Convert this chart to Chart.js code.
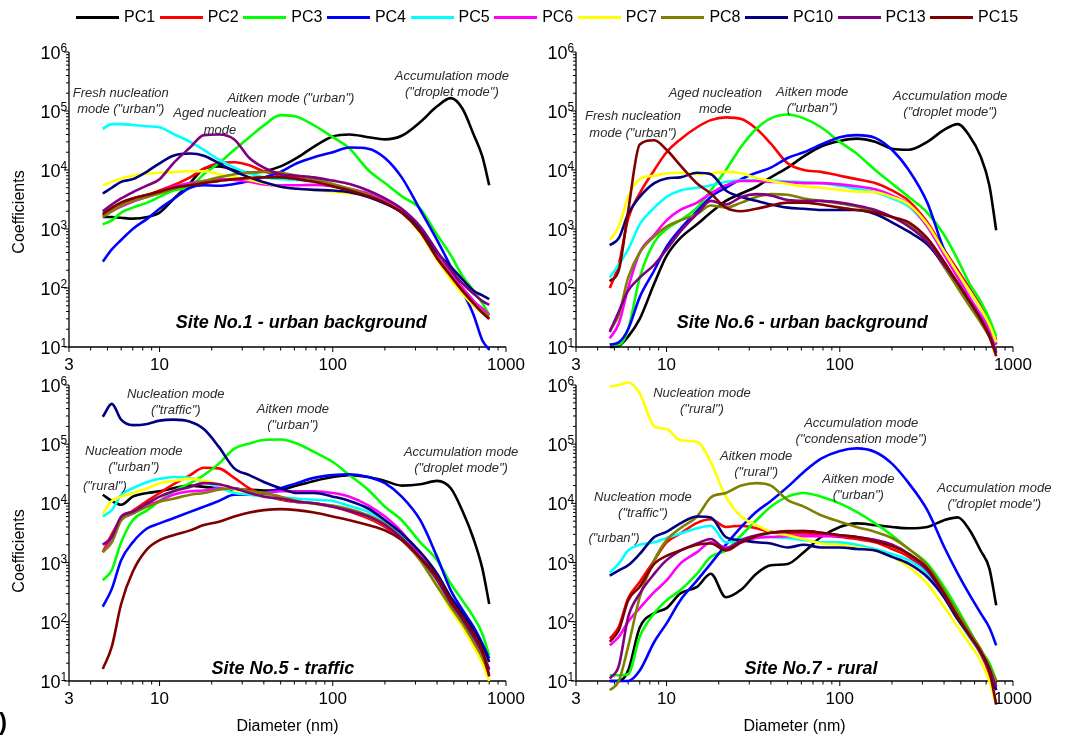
<!DOCTYPE html>
<html lang="en">
<head>
  <meta charset="UTF-8" />
  <title>PC coefficients by site</title>
  <script src="https://cdn.jsdelivr.net/npm/chart.js"></script>
  <style>
    body {
      margin: 0;
      background: #fff;
      width: 1066px;
      height: 735px;
      position: relative;
      overflow: hidden;
      font-family: Arial, "Liberation Sans", sans-serif;
    }
    canvas { position: absolute; }
    #legend {
      position: absolute;
      left: 76px;
      top: 6px;
      height: 22px;
      display: flex;
      align-items: center;
      z-index: 2;
    }
    .item { display: flex; align-items: center; font-size: 16px; color: #000; }
    .swatch { width: 43px; height: 3px; }
    .item span { margin: 0 4.5px 0 5px; }
    #tag {
      position: absolute;
      left: -1px;
      top: 708px;
      font: bold 24px Arial, "Liberation Sans", sans-serif;
    }
  </style>
</head>
<body>
  <div id="legend"></div>
  <canvas id="c1" width="533" height="372" style="left:0;top:0"></canvas>
  <canvas id="c2" width="533" height="372" style="left:533px;top:0"></canvas>
  <canvas id="c3" width="533" height="363" style="left:0;top:372px"></canvas>
  <canvas id="c4" width="533" height="363" style="left:533px;top:372px"></canvas>
  <div id="tag">)</div>

  <script>
    // diameters (nm) shared by all panels
    const diameters = [4.7, 5.3, 6, 7, 8.5, 10, 12, 15, 18, 22, 27, 33, 40, 50, 62, 78, 100, 125, 160, 200, 250, 320, 400, 480, 560, 650, 730, 800];

    const seriesNames = ['PC1', 'PC2', 'PC3', 'PC4', 'PC5', 'PC6', 'PC7', 'PC8', 'PC10', 'PC13', 'PC15'];
    const seriesColors = ['#000000', '#ff0000', '#00ff00', '#0000ff', '#00ffff', '#ff00ff', '#ffff00', '#808000', '#000080', '#800080', '#800000'];

    const xTickValues = [3, 10, 100, 1000];
    const yTickValues = [1e1, 1e2, 1e3, 1e4, 1e5, 1e6];

    // Site No.1 - urban background (rows in seriesNames order)
    const site1 = [
      [1.6e3, 1.6e3, 1.55e3, 1.5e3, 1.6e3, 1.9e3, 3.2e3, 6e3, 1.05e4, 1.15e4, 1.0e4, 9e3, 9.5e3, 1.15e4, 1.6e4, 2.5e4, 3.7e4, 4e4, 3.6e4, 3.3e4, 3.8e4, 6.5e4, 1.2e5, 1.65e5, 1.1e5, 4e4, 1.7e4, 5.5e3],
      [1.7e3, 2.2e3, 2.8e3, 3.3e3, 3.8e3, 4.5e3, 5.5e3, 7.5e3, 1.05e4, 1.3e4, 1.35e4, 1.2e4, 9.5e3, 8e3, 7.5e3, 6.5e3, 5.3e3, 4.5e3, 3.7e3, 2.9e3, 2e3, 9e2, 3.5e2, 1.7e2, 1e2, 6e1, 4e1, 3e1],
      [1.2e3, 1.4e3, 1.9e3, 2.3e3, 2.8e3, 3.5e3, 4.5e3, 5.2e3, 8.5e3, 1.3e4, 2.2e4, 3.6e4, 5.7e4, 8.5e4, 8e4, 5.7e4, 3.6e4, 2.3e4, 1e4, 6e3, 3.6e3, 2.2e3, 8e2, 3.6e2, 1.6e2, 9e1, 5.5e1, 3.5e1],
      [2.8e2, 4.5e2, 6.5e2, 1e3, 1.5e3, 2.2e3, 3.2e3, 5e3, 5.5e3, 5.4e3, 5.8e3, 6.5e3, 7.5e3, 9.3e3, 1.3e4, 1.65e4, 2e4, 2.4e4, 2.3e4, 1.6e4, 7.5e3, 2.1e3, 6.5e2, 2.3e2, 9e1, 3.5e1, 1.3e1, 9],
      [5e4, 6e4, 6e4, 5.8e4, 5.5e4, 5.3e4, 4.1e4, 3e4, 2.2e4, 1.5e4, 1.1e4, 8.7e3, 7.5e3, 7e3, 6.8e3, 6.5e3, 5.5e3, 4.5e3, 3.6e3, 2.8e3, 2e3, 9e2, 3.3e2, 1.6e2, 9e1, 5.5e1, 4e1, 3.3e1],
      [1.7e3, 2e3, 2.4e3, 2.9e3, 3.5e3, 4.3e3, 5.2e3, 6e3, 6.5e3, 7e3, 6.8e3, 6.3e3, 5.7e3, 5.5e3, 5.5e3, 5.6e3, 5.3e3, 4.8e3, 4e3, 3e3, 2.1e3, 9.5e2, 3.5e2, 1.7e2, 1e2, 6e1, 4.5e1, 3.5e1],
      [5.5e3, 6.3e3, 7.2e3, 8e3, 8.7e3, 9e3, 9.2e3, 9.5e3, 9.5e3, 8.5e3, 7.5e3, 6.8e3, 6e3, 5.2e3, 4.8e3, 4.6e3, 4.3e3, 4e3, 3.6e3, 2.8e3, 1.9e3, 8.5e2, 3e2, 1.4e2, 8e1, 5e1, 3.8e1, 3.3e1],
      [1.6e3, 2e3, 2.5e3, 3e3, 3.5e3, 4e3, 4.8e3, 5.7e3, 6.5e3, 7.5e3, 8.5e3, 9e3, 9.3e3, 9e3, 8e3, 7e3, 5.8e3, 4.8e3, 3.8e3, 2.8e3, 1.9e3, 9e2, 3.3e2, 1.6e2, 9e1, 5.5e1, 4e1, 3.3e1],
      [4e3, 5e3, 6.3e3, 7e3, 9.5e3, 1.3e4, 1.75e4, 1.9e4, 1.75e4, 1.3e4, 9.5e3, 7.5e3, 6.2e3, 5.2e3, 4.8e3, 4.6e3, 4.5e3, 4.2e3, 3.5e3, 2.7e3, 1.9e3, 1e3, 4e2, 2.3e2, 1.4e2, 9e1, 7.5e1, 6.5e1],
      [2e3, 2.6e3, 3.3e3, 4.2e3, 5.5e3, 7e3, 1.3e4, 2.4e4, 3.9e4, 4e4, 3.3e4, 1.6e4, 1.1e4, 8.5e3, 8e3, 7.5e3, 6.6e3, 5.8e3, 4.5e3, 3.3e3, 2.2e3, 1.1e3, 4.2e2, 2e2, 1.2e2, 8e1, 6e1, 5.2e1],
      [1.8e3, 2.3e3, 2.8e3, 3.3e3, 3.8e3, 4.3e3, 5e3, 5.5e3, 6e3, 6.5e3, 7e3, 7.3e3, 7.5e3, 7.5e3, 7e3, 6.3e3, 5.3e3, 4.5e3, 3.6e3, 2.8e3, 1.9e3, 9e2, 3.2e2, 1.6e2, 9e1, 5.5e1, 3.8e1, 3e1]
    ];

    // Site No.6 - urban background
    const site6 = [
      [10, 10.5, 15, 3e1, 1.2e2, 3.5e2, 7e2, 1.2e3, 1.9e3, 3e3, 4e3, 5.2e3, 7.5e3, 1.1e4, 1.7e4, 2.5e4, 3.1e4, 3.4e4, 3e4, 2.3e4, 2.2e4, 3e4, 4.8e4, 6e4, 3.8e4, 1.7e4, 5.5e3, 9.5e2],
      [1e2, 2.5e2, 1.5e3, 4e3, 1e4, 2e4, 3.3e4, 5.3e4, 7e4, 7.8e4, 7.3e4, 5e4, 2.8e4, 1.3e4, 1e4, 9.3e3, 8e3, 7e3, 6e3, 4.5e3, 3e3, 1.3e3, 4.5e2, 2e2, 1e2, 5e1, 2.8e1, 1.3e1],
      [11, 11, 2e1, 1.5e2, 6e2, 1e3, 1.4e3, 2.3e3, 4.5e3, 1e4, 2.5e4, 5e4, 7.5e4, 8.7e4, 7.5e4, 5.3e4, 3e4, 1.9e4, 1e4, 5.9e3, 3.5e3, 1.9e3, 8e2, 3e2, 1.2e2, 6e1, 3e1, 1.5e1],
      [11, 12, 2e1, 7e1, 2e2, 5e2, 1e3, 2e3, 3.5e3, 5e3, 7e3, 9e3, 1.1e4, 1.6e4, 2e4, 2.7e4, 3.6e4, 3.9e4, 3.5e4, 2.2e4, 1e4, 2.8e3, 4.5e2, 1.8e2, 9e1, 4.5e1, 2.2e1, 11],
      [1.5e2, 2.5e2, 4.5e2, 1.2e3, 2.3e3, 3.5e3, 4.5e3, 5e3, 5.5e3, 6.3e3, 6.7e3, 6.7e3, 6.6e3, 6.4e3, 6.2e3, 6e3, 5.4e3, 4.8e3, 4.2e3, 3.3e3, 2.4e3, 1.1e3, 4e2, 1.7e2, 9e1, 4.5e1, 2.3e1, 12],
      [14, 2.5e1, 1e2, 4e2, 8e2, 1.4e3, 2.1e3, 2.8e3, 4e3, 5.5e3, 6.5e3, 6.5e3, 6.3e3, 6.2e3, 6e3, 6e3, 5.7e3, 5.3e3, 4.7e3, 3.7e3, 2.6e3, 1.1e3, 3.7e2, 1.5e2, 7e1, 3.5e1, 2e1, 11],
      [6.5e2, 1.1e3, 3.5e3, 7e3, 8e3, 8.8e3, 9e3, 8.5e3, 8.8e3, 9.3e3, 8.8e3, 7.3e3, 6.5e3, 5.8e3, 5.3e3, 5e3, 4.6e3, 4.3e3, 4.2e3, 3.5e3, 2.6e3, 1.2e3, 4.2e2, 1.8e2, 9e1, 4.5e1, 2.4e1, 12],
      [19, 3.5e1, 1.5e2, 4e2, 7.5e2, 1.1e3, 1.4e3, 1.8e3, 2.5e3, 2.3e3, 2.8e3, 3.5e3, 3.9e3, 3.8e3, 3.3e3, 3e3, 2.7e3, 2.4e3, 2e3, 1.6e3, 1.2e3, 6e2, 2.3e2, 1e2, 5e1, 2.6e1, 1.5e1, 9],
      [5.3e2, 7e2, 1.8e3, 3.5e3, 6e3, 7.2e3, 7.5e3, 9e3, 8.5e3, 4.5e3, 3.5e3, 3e3, 2.6e3, 2.3e3, 2.2e3, 2.1e3, 2.1e3, 2.1e3, 1.8e3, 1.3e3, 9e2, 5.5e2, 2.5e2, 1.2e2, 6e1, 3e1, 1.6e1, 8],
      [18, 4e1, 9e1, 1.5e2, 2.5e2, 4.5e2, 9e2, 1.8e3, 3e3, 2.6e3, 3.5e3, 3.9e3, 3.7e3, 3.1e3, 3e3, 3e3, 2.8e3, 2.5e3, 2.1e3, 1.6e3, 1.1e3, 6e2, 2.5e2, 1.2e2, 6e1, 3e1, 1.6e1, 8],
      [1.3e2, 2e2, 2e3, 2.7e4, 3.2e4, 2.2e4, 1.2e4, 5.9e3, 4e3, 2.3e3, 2e3, 2.2e3, 2.5e3, 2.8e3, 2.8e3, 2.6e3, 2.3e3, 2.1e3, 1.9e3, 1.6e3, 1.3e3, 7e2, 2.8e2, 1.2e2, 6e1, 3e1, 1.5e1, 7]
    ];

    // Site No.5 - traffic
    const site5 = [
      [1.4e4, 1.1e4, 9.5e3, 1.3e4, 1.5e4, 1.6e4, 1.8e4, 2e4, 1.9e4, 1.8e4, 1.7e4, 1.7e4, 1.65e4, 1.7e4, 2e4, 2.4e4, 2.8e4, 3e4, 2.8e4, 2.4e4, 2e4, 2.1e4, 2.4e4, 1.8e4, 7.5e3, 2.5e3, 8e2, 2e2],
      [1.5e3, 3e3, 5.5e3, 7.5e3, 1.1e4, 1.5e4, 2.1e4, 3e4, 4e4, 3.9e4, 2.7e4, 1.8e4, 1.4e4, 1.15e4, 1.05e4, 1e4, 8.8e3, 7.3e3, 5.6e3, 4e3, 2.4e3, 1.1e3, 4e2, 1.8e2, 9e1, 4.5e1, 2.4e1, 12],
      [5e2, 7.5e2, 2.2e3, 5.2e3, 7.7e3, 1.1e4, 1.6e4, 2.2e4, 3e4, 4.7e4, 8.4e4, 1.03e5, 1.18e5, 1.2e5, 1.03e5, 7.4e4, 5e4, 3e4, 1.7e4, 8.8e3, 5.2e3, 2.2e3, 1.1e3, 4.4e2, 2.3e2, 1.2e2, 6.3e1, 2.7e1],
      [1.8e2, 3.6e2, 1.1e3, 2.2e3, 3.8e3, 4.6e3, 5.6e3, 7.2e3, 8.8e3, 1.1e4, 1.4e4, 1.4e4, 1.5e4, 1.8e4, 2.2e4, 2.7e4, 3e4, 3.1e4, 2.8e4, 2.2e4, 1.3e4, 5.2e3, 1.25e3, 3.4e2, 1.6e2, 8.2e1, 4.3e1, 2.4e1],
      [6e3, 7.7e3, 1.4e4, 1.8e4, 2.3e4, 2.6e4, 2.8e4, 2.7e4, 2.3e4, 1.9e4, 1.5e4, 1.4e4, 1.3e4, 1.26e4, 1.2e4, 1.15e4, 1.1e4, 9e3, 7.2e3, 5e3, 2.9e3, 1.3e3, 5e2, 2e2, 1e2, 5e1, 2.6e1, 13],
      [1.5e3, 2.4e3, 5.2e3, 6.7e3, 9.3e3, 1.1e4, 1.4e4, 1.6e4, 1.65e4, 1.8e4, 1.8e4, 1.6e4, 1.5e4, 1.6e4, 1.6e4, 1.6e4, 1.5e4, 1.3e4, 9.3e3, 6e3, 3.3e3, 1.3e3, 5.8e2, 2.3e2, 1.2e2, 6e1, 3e1, 15],
      [6.7e3, 1.1e4, 1.3e4, 1.5e4, 1.8e4, 2.2e4, 2.4e4, 2.6e4, 2.4e4, 2.1e4, 1.7e4, 1.5e4, 1.3e4, 1.2e4, 1.07e4, 9.8e3, 8.8e3, 7.7e3, 6e3, 4.3e3, 2.6e3, 1.1e3, 4e2, 1.6e2, 8.2e1, 3.8e1, 2e1, 10],
      [1.5e3, 2.2e3, 5.2e3, 6.7e3, 8.8e3, 1.07e4, 1.2e4, 1.4e4, 1.5e4, 1.7e4, 1.8e4, 1.6e4, 1.5e4, 1.3e4, 1.1e4, 1e4, 9.2e3, 8e3, 6.3e3, 4.5e3, 2.6e3, 1.1e3, 4e2, 1.8e2, 9.4e1, 4.6e1, 2.5e1, 13],
      [2.9e5, 4.8e5, 2.6e5, 2.1e5, 2.2e5, 2.5e5, 2.6e5, 2.4e5, 1.8e5, 9e4, 3.9e4, 3e4, 2.3e4, 1.8e4, 1.5e4, 1.5e4, 1.3e4, 1.1e4, 8.2e3, 5.2e3, 3.1e3, 1.5e3, 6.5e2, 2.6e2, 1.4e2, 7.2e1, 4e1, 2.1e1],
      [2e3, 2.7e3, 6e3, 7.2e3, 1e4, 1.3e4, 1.6e4, 1.9e4, 2.2e4, 2.1e4, 1.8e4, 1.5e4, 1.3e4, 1.2e4, 1.07e4, 1e4, 8.8e3, 7.5e3, 6e3, 4.3e3, 2.6e3, 1.2e3, 5.1e2, 2.1e2, 1.1e2, 5.5e1, 3e1, 16],
      [16, 3.8e1, 2e2, 7e2, 1.7e3, 2.4e3, 2.9e3, 3.5e3, 4.3e3, 4.9e3, 6e3, 7e3, 7.7e3, 8e3, 7.7e3, 7e3, 6e3, 5.2e3, 4.3e3, 3.5e3, 2.4e3, 1.2e3, 5.8e2, 2.3e2, 1.2e2, 6.3e1, 3.3e1, 12]
    ];

    // Site No.7 - rural
    const site7 = [
      [10, 10, 15, 8e1, 1.4e2, 1.7e2, 3e2, 3.9e2, 6.5e2, 2.6e2, 3.5e2, 6.5e2, 9e2, 9.5e2, 1.5e3, 2.7e3, 4e3, 4.6e3, 4.3e3, 4e3, 3.8e3, 4e3, 5.2e3, 5.8e3, 3.6e3, 1.6e3, 8e2, 1.9e2],
      [5.2e1, 8.2e1, 2.5e2, 4.7e2, 1.1e3, 2.2e3, 3.1e3, 4.7e3, 5.4e3, 4e3, 4.2e3, 3.8e3, 3.3e3, 3.1e3, 3.1e3, 3e3, 2.7e3, 2.5e3, 2.2e3, 1.7e3, 1.25e3, 6.5e2, 2.6e2, 1.1e2, 5.6e1, 2.9e1, 13, 4],
      [12.5, 12.5, 13, 5.6e1, 1.4e2, 2.3e2, 3.4e2, 6.5e2, 1.25e3, 1.6e3, 2.9e3, 5.2e3, 8.8e3, 1.3e4, 1.5e4, 1.3e4, 1e4, 7.2e3, 4.6e3, 2.9e3, 1.7e3, 9.6e2, 3.9e2, 1.6e2, 7.2e1, 3.3e1, 2e1, 10],
      [10, 10, 10, 15, 4.6e1, 9.4e1, 2.3e2, 5e2, 9.6e2, 2e3, 4e3, 7.2e3, 1.1e4, 1.9e4, 3.4e4, 5.7e4, 7.7e4, 8.5e4, 7.4e4, 4.7e4, 2.2e4, 7.7e3, 1.85e3, 6.5e2, 2.9e2, 1.4e2, 8e1, 4e1],
      [6.8e2, 9.6e2, 1.6e3, 2e3, 2.2e3, 2.6e3, 3.1e3, 3.8e3, 4.2e3, 2.2e3, 2.5e3, 2.8e3, 2.7e3, 2.6e3, 2.4e3, 2.2e3, 2.2e3, 2e3, 1.7e3, 1.4e3, 1.1e3, 6.5e2, 2.7e2, 1.1e2, 5.6e1, 2.9e1, 15, 8],
      [4e1, 5.6e1, 1e2, 1.7e2, 3.2e2, 5e2, 9.6e2, 1.5e3, 2.2e3, 1.8e3, 2.2e3, 2.6e3, 2.7e3, 2.8e3, 2.8e3, 2.8e3, 2.8e3, 2.7e3, 2.4e3, 2e3, 1.4e3, 7.4e2, 2.9e2, 1.2e2, 6e1, 3e1, 15, 7],
      [9.4e5, 1e6, 1.1e6, 7.2e5, 2e5, 1.8e5, 1.17e5, 1.1e5, 5e4, 1.3e4, 6e3, 4.3e3, 3.3e3, 2.9e3, 2.5e3, 2.1e3, 2e3, 1.8e3, 1.6e3, 1.25e3, 8.4e2, 4.4e2, 1.8e2, 8.2e1, 4.3e1, 2.2e1, 10, 4],
      [7, 10, 3.8e1, 2.6e2, 1.1e3, 2.4e3, 3.8e3, 6e3, 1.26e4, 1.5e4, 2e4, 2.2e4, 2e4, 1.14e4, 8.8e3, 6.3e3, 4.9e3, 4e3, 3.3e3, 2.6e3, 1.7e3, 9e2, 3.4e2, 1.4e2, 6.8e1, 3.5e1, 1.8e1, 10],
      [6e2, 7.4e2, 9e2, 1.4e3, 2.7e3, 3.3e3, 4.6e3, 6e3, 5.8e3, 2.7e3, 2.4e3, 2.2e3, 2.1e3, 1.8e3, 2e3, 1.8e3, 1.8e3, 1.7e3, 1.6e3, 1.25e3, 9.6e2, 5.7e2, 2.6e2, 1.1e2, 5.9e1, 3.1e1, 16, 7],
      [11, 1.8e1, 1.2e2, 3e2, 6.5e2, 1.1e3, 1.6e3, 2.1e3, 2.5e3, 1.7e3, 2.4e3, 2.9e3, 3.2e3, 3.3e3, 3.4e3, 3.2e3, 2.9e3, 2.7e3, 2.4e3, 2e3, 1.4e3, 7.4e2, 2.9e2, 1.2e2, 6e1, 3e1, 15, 8],
      [4.6e1, 7.2e1, 2.3e2, 3.9e2, 9.6e2, 1.3e3, 1.6e3, 2e3, 2.1e3, 1.6e3, 2.2e3, 2.8e3, 3.2e3, 3.4e3, 3.4e3, 3.2e3, 2.9e3, 2.7e3, 2.3e3, 1.9e3, 1.4e3, 8e2, 3e2, 1.2e2, 5.9e1, 3.1e1, 15, 4]
    ];

    // mode labels, anchored in data coordinates (diameter, coefficient)
    const notes1 = [
      { x: 5.97, y: 2.0e5, lines: ['Fresh nucleation', 'mode ("urban")'] },
      { x: 22.3, y: 9.1e4, lines: ['Aged nucleation', 'mode'] },
      { x: 57.3, y: 1.64e5, lines: ['Aitken mode ("urban")'] },
      { x: 487, y: 3.9e5, lines: ['Accumulation mode', '("droplet mode")'] }
    ];
    const notes6 = [
      { x: 6.4, y: 8.1e4, lines: ['Fresh nucleation', 'mode ("urban")'] },
      { x: 19.1, y: 2.0e5, lines: ['Aged nucleation', 'mode'] },
      { x: 69.3, y: 2.07e5, lines: ['Aitken mode', '("urban")'] },
      { x: 434, y: 1.77e5, lines: ['Accumulation mode', '("droplet mode")'] }
    ];
    const notes5 = [
      { x: 12.4, y: 7.0e5, lines: ['Nucleation mode', '("traffic")'] },
      { x: 58.8, y: 3.9e5, lines: ['Aitken mode', '("urban")'] },
      { x: 7.1, y: 7.6e4, lines: ['Nucleation mode', '("urban")'] },
      { x: 4.83, y: 1.95e4, lines: ['("rural")'] },
      { x: 550, y: 7.3e4, lines: ['Accumulation mode', '("droplet mode")'] }
    ];
    const notes7 = [
      { x: 16.0, y: 7.3e5, lines: ['Nucleation mode', '("rural")'] },
      { x: 133, y: 2.27e5, lines: ['Accumulation mode', '("condensation mode")'] },
      { x: 32.9, y: 6.3e4, lines: ['Aitken mode', '("rural")'] },
      { x: 128, y: 2.57e4, lines: ['Aitken mode', '("urban")'] },
      { x: 7.3, y: 1.27e4, lines: ['Nucleation mode', '("traffic")'] },
      { x: 4.97, y: 2.58e3, lines: ['("urban")'] },
      { x: 780, y: 1.8e4, lines: ['Accumulation mode', '("droplet mode")'] }
    ];

    const FONT = 'Arial, "Liberation Sans", sans-serif';

    // legend
    const legend = document.getElementById('legend');
    seriesNames.forEach((name, i) => {
      const item = document.createElement('div');
      item.className = 'item';
      item.innerHTML = '<div class="swatch" style="background:' + seriesColors[i] + '"></div><span>' + name + '</span>';
      legend.appendChild(item);
    });

    function minorTicks(from, to) {
      const out = [];
      for (let p = from; p < to; p *= 10) {
        for (let k = 2; k <= 9; k++) out.push(k * p);
      }
      return out;
    }

    const decor = {
      id: 'decor',
      beforeDatasetsDraw(chart) {
        const ctx = chart.ctx, a = chart.chartArea;
        const xs = chart.scales.x, ys = chart.scales.y;
        ctx.save();
        ctx.strokeStyle = '#000';
        ctx.lineWidth = 1.3;
        ctx.beginPath();
        ctx.moveTo(a.left, a.top);
        ctx.lineTo(a.left, a.bottom);
        ctx.lineTo(a.right, a.bottom);
        ctx.stroke();
        ctx.lineWidth = 1;
        ctx.beginPath();
        minorTicks(10, 1e6).forEach(v => {
          const y = ys.getPixelForValue(v);
          ctx.moveTo(a.left - 3, y); ctx.lineTo(a.left, y);
        });
        yTickValues.forEach(v => {
          const y = ys.getPixelForValue(v);
          ctx.moveTo(a.left - 5, y); ctx.lineTo(a.left, y);
        });
        minorTicks(1, 1000).filter(v => v > 3).forEach(v => {
          const x = xs.getPixelForValue(v);
          ctx.moveTo(x, a.bottom); ctx.lineTo(x, a.bottom + 3.5);
        });
        xTickValues.forEach(v => {
          const x = xs.getPixelForValue(v);
          ctx.moveTo(x, a.bottom); ctx.lineTo(x, a.bottom + 5);
        });
        ctx.stroke();
        ctx.restore();
      },
      afterDatasetsDraw(chart, args, o) {
        const ctx = chart.ctx, a = chart.chartArea;
        const xs = chart.scales.x, ys = chart.scales.y;
        ctx.save();
        ctx.fillStyle = '#000';
        // y tick labels 10^n
        yTickValues.forEach(v => {
          const y = ys.getPixelForValue(v);
          ctx.font = '18px ' + FONT;
          ctx.textAlign = 'right';
          ctx.textBaseline = 'alphabetic';
          ctx.fillText('10', a.left - 8.5, y + 7);
          ctx.font = '12px ' + FONT;
          ctx.textAlign = 'left';
          ctx.fillText(String(Math.round(Math.log10(v))), a.left - 8.5, y);
        });
        // x tick labels
        ctx.font = '17px ' + FONT;
        ctx.textAlign = 'center';
        xTickValues.forEach(v => {
          ctx.fillText(String(v), xs.getPixelForValue(v), a.bottom + 23);
        });
        // axis titles
        ctx.font = '16px ' + FONT;
        if (o.yTitleY) {
          ctx.save();
          ctx.translate(20, o.yTitleY);
          ctx.rotate(-Math.PI / 2);
          ctx.textBaseline = 'middle';
          ctx.fillText('Coefficients', 0, 0);
          ctx.restore();
        }
        if (o.xTitle) {
          ctx.textBaseline = 'middle';
          ctx.fillText('Diameter (nm)', (a.left + a.right) / 2, a.bottom + 46);
        }
        // panel title
        ctx.font = 'italic bold 18px ' + FONT;
        ctx.textBaseline = 'middle';
        ctx.fillText(o.title, xs.getPixelForValue(o.titleAt[0]), ys.getPixelForValue(o.titleAt[1]));
        // mode notes
        ctx.font = 'italic 13px ' + FONT;
        ctx.fillStyle = '#2a2a2a';
        o.notes.forEach(n => {
          const x = xs.getPixelForValue(n.x), y = ys.getPixelForValue(n.y);
          n.lines.forEach((t, k) => ctx.fillText(t, x, y + k * 16.5));
        });
        ctx.restore();
      }
    };

    function makePanel(id, values, padding, opts) {
      const datasets = seriesNames.map((name, i) => ({
        label: name,
        data: diameters.map((d, j) => ({ x: d, y: values[i][j] })),
        borderColor: seriesColors[i],
        backgroundColor: seriesColors[i],
        borderWidth: 2.6,
        pointRadius: 0,
        cubicInterpolationMode: 'monotone',
        clip: false,
        order: seriesNames.length - i
      }));
      new Chart(document.getElementById(id), {
        type: 'line',
        data: { datasets },
        options: {
          responsive: false,
          animation: false,
          events: [],
          layout: { padding },
          elements: { line: { capBezierPoints: false } },
          scales: {
            x: { type: 'logarithmic', min: 3, max: 1000, display: false },
            y: { type: 'logarithmic', min: 10, max: 1e6, display: false }
          },
          plugins: {
            legend: { display: false },
            tooltip: { enabled: false },
            decor: opts
          }
        },
        plugins: [decor]
      });
    }

    const topPad = { top: 52, bottom: 25 };
    const botPad = { top: 13, bottom: 54 };

    makePanel('c1', site1, { left: 69, right: 27, ...topPad },
      { title: 'Site No.1 - urban background', titleAt: [65.8, 25.2], notes: notes1, yTitleY: 212, xTitle: false });
    makePanel('c2', site6, { left: 43, right: 53, ...topPad },
      { title: 'Site No.6 - urban background', titleAt: [60.7, 25.2], notes: notes6, yTitleY: 0, xTitle: false });
    makePanel('c3', site5, { left: 69, right: 27, ...botPad },
      { title: 'Site No.5 - traffic', titleAt: [51.5, 15.7], notes: notes5, yTitleY: 179, xTitle: true });
    makePanel('c4', site7, { left: 43, right: 53, ...botPad },
      { title: 'Site No.7 - rural', titleAt: [68.3, 15.7], notes: notes7, yTitleY: 0, xTitle: true });
  </script>
</body>
</html>
